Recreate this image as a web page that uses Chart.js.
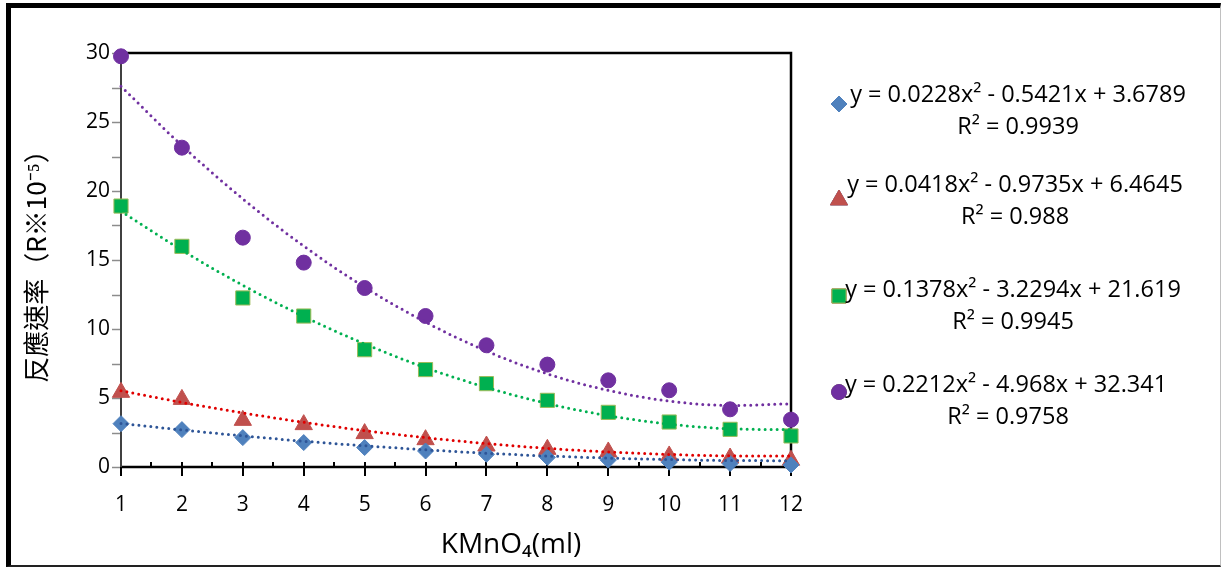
<!DOCTYPE html>
<html>
<head>
<meta charset="utf-8">
<script src="https://cdn.jsdelivr.net/npm/chart.js@4.4.1/dist/chart.umd.min.js"></script>
<style>
body { margin: 0; background: #fff; }
#wrap { position: relative; width: 1223px; height: 568px; }
#frame { position: absolute; left: 6px; top: 3px; width: 1215px; height: 564px; box-sizing: border-box;
  border-left: 5px solid #000; border-top: 5px solid #000; border-right: 1px solid #c0c0c0; border-bottom: 2px solid #222; }
#chart { position: absolute; left: 0; top: 0; }
</style>
</head>
<body>
<div id="wrap"><div id="frame"></div><canvas id="chart" width="1223" height="568"></canvas></div>
<script>
// KMnO4 volume (ml)
var kmno4 = [1, 2, 3, 4, 5, 6, 7, 8, 9, 10, 11, 12];

// measured rates (R*10^-5)
var blueRate = [3.14, 2.71, 2.13, 1.77, 1.41, 1.16, 0.92, 0.7, 0.5, 0.35, 0.25, 0.15];
var redRate = [5.41, 4.9, 3.38, 3.07, 2.42, 1.98, 1.52, 1.28, 1.09, 0.8, 0.65, 0.49];
var greenRate = [18.91, 15.99, 12.25, 10.94, 8.5, 7.06, 6.04, 4.83, 3.96, 3.26, 2.73, 2.25];
var purpleRate = [29.76, 23.14, 16.62, 14.81, 12.97, 10.94, 8.82, 7.42, 6.28, 5.56, 4.18, 3.43];

// polynomial trendlines, read at each x
var blueTrend = [3.16, 2.69, 2.26, 1.87, 1.54, 1.25, 1.0, 0.8, 0.65, 0.54, 0.47, 0.46];
var redTrend = [5.53, 4.68, 3.92, 3.24, 2.64, 2.13, 1.7, 1.35, 1.09, 0.91, 0.81, 0.8];
var greenTrend = [18.53, 15.71, 13.17, 10.91, 8.92, 7.2, 5.77, 4.6, 3.72, 3.11, 2.77, 2.71];
var purpleTrend = [27.59, 23.29, 19.43, 16.01, 13.03, 10.5, 8.4, 6.75, 5.55, 4.78, 4.46, 4.58];

var equations = [
    "y = 0.0228x\u00b2 - 0.5421x + 3.6789",
    "y = 0.0418x\u00b2 - 0.9735x + 6.4645",
    "y = 0.1378x\u00b2 - 3.2294x + 21.619",
    "y = 0.2212x\u00b2 - 4.968x + 32.341"
];
var rSquared = ["R\u00b2 = 0.9939", "R\u00b2 = 0.988", "R\u00b2 = 0.9945", "R\u00b2 = 0.9758"];

var yTitle = "反應速率（R※10⁻⁵）";
var xTitle = "KMnO₄(ml)";

function to_points(values) {
    var pts = [];
    for (var i = 0; i < kmno4.length; i++) {
        pts.push({ x: kmno4[i], y: values[i] });
    }
    return pts;
}

function marker_set(label, values, m) {
    return {
        label: label,
        data: to_points(values),
        showLine: false,
        pointStyle: m.style,
        pointRadius: m.radius,
        pointBackgroundColor: m.fill,
        pointBorderColor: m.border,
        pointBorderWidth: 1,
        clip: false,
        order: 2
    };
}

function trend_set(label, values, color) {
    return {
        label: label,
        data: to_points(values),
        showLine: true,
        borderColor: color,
        borderWidth: 3,
        borderDash: [0, 6],
        borderCapStyle: "round",
        cubicInterpolationMode: "monotone",
        pointRadius: 0,
        clip: false,
        order: 1
    };
}

var markers = [
    { style: "rectRot", radius: 8, fill: "#4F81BD", border: "#4F81BD" },
    { style: "triangle", radius: 10, fill: "#C0504D", border: "#C0504D" },
    { style: "rect", radius: 10, fill: "#00B050", border: "#9BBB59" },
    { style: "circle", radius: 7.5, fill: "#7030A0", border: "#7030A0" }
];

var frameAndLegend = {
    id: "frameAndLegend",
    beforeDatasetsDraw: function (chart) {
        var ctx = chart.ctx;
        var a = chart.chartArea;
        var xs = chart.scales.x;
        var ys = chart.scales.y;
        ctx.save();
        // y ticks
        ctx.strokeStyle = "#8c8c8c";
        ctx.lineWidth = 1.5;
        ys.ticks.forEach(function (t) {
            var py = Math.round(ys.getPixelForValue(t.value)) + 0.5;
            ctx.beginPath();
            ctx.moveTo(a.left - 9, py);
            ctx.lineTo(a.left, py);
            ctx.stroke();
        });
        // x ticks
        ctx.strokeStyle = "#000";
        ctx.lineWidth = 2;
        xs.ticks.forEach(function (t) {
            var px = Math.round(xs.getPixelForValue(t.value));
            var major = Number.isInteger(t.value);
            ctx.beginPath();
            ctx.moveTo(px, a.bottom - 5);
            ctx.lineTo(px, a.bottom + (major ? 9 : 0));
            ctx.stroke();
        });
        // frame
        ctx.lineWidth = 2.5;
        ctx.strokeStyle = "#000";
        ctx.beginPath();
        ctx.moveTo(a.left, a.top);
        ctx.lineTo(a.right, a.top);
        ctx.lineTo(a.right, a.bottom);
        ctx.stroke();
        ctx.beginPath();
        ctx.moveTo(a.left - 1, a.bottom);
        ctx.lineTo(a.right, a.bottom);
        ctx.stroke();
        ctx.strokeStyle = "#404040";
        ctx.lineWidth = 2;
        ctx.beginPath();
        ctx.moveTo(a.left, a.top);
        ctx.lineTo(a.left, a.bottom);
        ctx.stroke();
        ctx.restore();
    },
    afterDraw: function (chart) {
        var ctx = chart.ctx;
        var a = chart.chartArea;
        ctx.save();
        // x axis title
        ctx.fillStyle = "#000";
        ctx.font = "28px 'Open Sans'";
        ctx.textAlign = "center";
        ctx.textBaseline = "middle";
        ctx.fillText(xTitle, (a.left + a.right) / 2 + 55, 545);
        // legend with trendline equations
        var lineY = [95, 185, 290, 385];
        var markY = [104, 200, 296, 392];
        var textX = [227, 224, 222, 215];
        var rX = [227, 224, 222, 217];
        ctx.font = "23.5px 'Open Sans'";
        for (var i = 0; i < equations.length; i++) {
            var m = markers[i];
            Chart.helpers.drawPoint(ctx, {
                pointStyle: m.style, radius: m.radius, rotation: 0, borderWidth: 1
            }, a.right + 48, markY[i]);
            ctx.fillStyle = m.fill;
            ctx.strokeStyle = m.border;
            ctx.fill();
            ctx.stroke();
            ctx.fillStyle = "#000";
            ctx.fillText(equations[i], a.right + textX[i], lineY[i]);
            ctx.fillText(rSquared[i], a.right + rX[i], lineY[i] + 32);
        }
        ctx.restore();
    }
};

var chart = new Chart("chart", {
    type: "scatter",
    data: {
        datasets: [
            marker_set("Series1", blueRate, markers[0]),
            marker_set("Series2", redRate, markers[1]),
            marker_set("Series3", greenRate, markers[2]),
            marker_set("Series4", purpleRate, markers[3]),
            trend_set("Poly. (Series1)", blueTrend, "#2E5597"),
            trend_set("Poly. (Series2)", redTrend, "#E00000"),
            trend_set("Poly. (Series3)", greenTrend, "#00B050"),
            trend_set("Poly. (Series4)", purpleTrend, "#7030A0")
        ]
    },
    options: {
        responsive: false,
        animation: false,
        layout: {
            autoPadding: false,
            padding: { top: 53, right: 432, bottom: 0, left: 0 }
        },
        plugins: {
            legend: { display: false },
            tooltip: { enabled: false }
        },
        scales: {
            x: {
                type: "linear",
                min: 1,
                max: 12,
                grid: { display: false, drawTicks: false },
                border: { display: false },
                ticks: {
                    stepSize: 0.5,
                    autoSkip: false,
                    maxRotation: 0,
                    padding: 25,
                    color: "#000",
                    font: { family: "'Open Sans'", size: 21 },
                    callback: function (v) { return Number.isInteger(v) ? v : ""; }
                },
                afterFit: function (scale) { scale.height = 101; }
            },
            y: {
                min: 0,
                max: 30,
                grid: { display: false, drawTicks: false },
                border: { display: false },
                ticks: {
                    stepSize: 2.5,
                    padding: 11,
                    color: "#000",
                    font: { family: "'Open Sans'", size: 21 },
                    callback: function (v) { return v % 5 === 0 ? v : ""; }
                },
                title: {
                    display: true,
                    text: yTitle,
                    color: "#000",
                    font: { family: "'Noto Sans CJK TC'", size: 26, lineHeight: 1.2 },
                    padding: { top: 21, bottom: 0 }
                },
                afterFit: function (scale) { scale.width = 121; }
            }
        }
    },
    plugins: [frameAndLegend]
});
</script>
</body>
</html>
